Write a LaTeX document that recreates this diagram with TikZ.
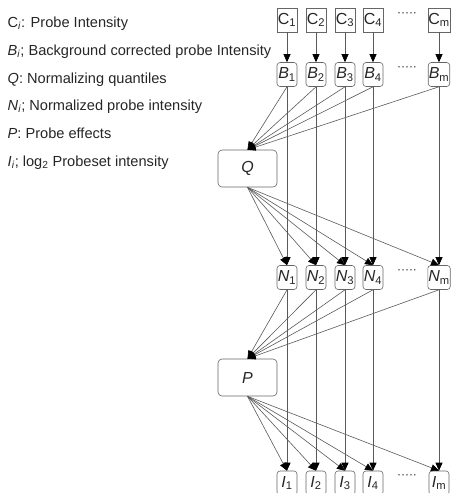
\documentclass[tikz,border=0pt]{standalone}
\usepackage{fontspec}
\setmainfont{Liberation Sans}
\usetikzlibrary{positioning, arrows.meta, shapes}

\begin{document}
\begin{tikzpicture}[x=1pt,y=-1pt,
    every node/.style={inner sep=0.5pt,text=black!85},
    link/.style={draw=black!65,line width=0.6pt,
        -{Triangle[length=8pt,width=7pt,color=black]}},
    cbox/.style={draw=black!60,line width=0.6pt,minimum width=20pt,
        minimum height=24pt,font=\fontsize{16}{16}\selectfont},
    rbox/.style={cbox,rounded corners=3pt},
    stagebox/.style={rbox,rounded corners=4pt,minimum width=59pt,
        minimum height=37pt},
    legend/.style={anchor=base west,font=\fontsize{14.6}{15}\selectfont},
    gap/.style={font=\fontsize{12}{12}\selectfont}]
    \useasboundingbox (0,0) rectangle (451,493);

    %legend on the left
    \node[legend] (lc) at (7,27) {C\textsubscript{\textit{i}}: Probe Intensity};
    \node[legend] (lb) at (7,55) {\textit{B}\textsubscript{\textit{i}}; Background corrected probe Intensity};
    \node[legend] (lq) at (7,83) {\textit{Q}: Normalizing quantiles};
    \node[legend] (ln) at (7,110) {\textit{N}\textsubscript{\textit{i}}; Normalized probe intensity};
    \node[legend] (lp) at (7,138) {\textit{P}: Probe effects};
    \node[legend] (li) at (7,166) {\textit{I}\textsubscript{\textit{i}}; log\textsubscript{2} Probeset intensity};

    %stages
    \node[stagebox] (q) at (247.5,168.5) {\textit{Q}};
    \node[stagebox] (p) at (247.5,377.5) {\textit{P}};

    %columns of probes
    \foreach \i/\x in {1/287,2/316,3/345,4/373,m/439} {
        \node[cbox] (c\i) at (\x,20) {C\textsubscript{\i}};
        \node[rbox] (b\i) at (\x,74.5) {\textit{B}\textsubscript{\i}};
        \node[rbox] (n\i) at (\x,277.5) {\textit{N}\textsubscript{\i}};
        \node[rbox] (ps\i) at (\x,483) {\textit{I}\textsubscript{\i}};
    }
    \foreach \y/\r in {15/c,69/b,272/n,477/ps}
        \node[gap] (dots\r) at (407,\y) {·····};

    %putting arrows:
    \foreach \i in {1,2,3,4,m} {
        \draw[link] (c\i.south) -- (b\i.north);
        \draw[link] (b\i.south) -- (n\i.north);
        \draw[link] (n\i.south) -- (ps\i.north);
        \draw[link] (b\i.south) -- (q.north);
        \draw[link] (q.south) -- (n\i.north);
        \draw[link] (n\i.south) -- (p.north);
        \draw[link] (p.south) -- (ps\i.north);
    }
\end{tikzpicture}
\end{document}
